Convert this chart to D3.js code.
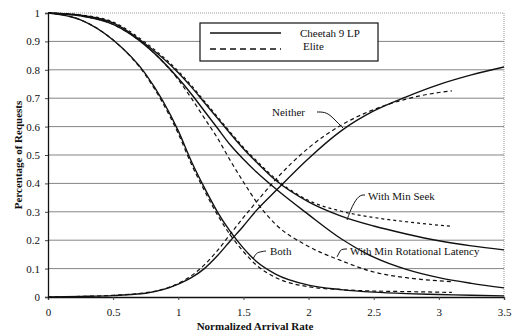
<!DOCTYPE html>
<html><head><meta charset="utf-8">
<script src="https://cdn.jsdelivr.net/npm/d3@7/dist/d3.min.js"></script>
<style>
html,body{margin:0;padding:0;background:#fff;}
svg text{font-family:"Liberation Serif","Times New Roman",serif;fill:#111;}
</style></head>
<body>
<svg id="chart" width="514" height="331"></svg>
<script>
// ---- data ----
const cheetahX = [0,0.25,0.5,0.75,1,1.1,1.2,1.3,1.4,1.5,1.6,1.75,2,2.25,2.5,2.75,3,3.25,3.5];
const eliteX   = [0,0.25,0.5,0.75,1,1.1,1.2,1.3,1.4,1.5,1.6,1.75,2,2.25,2.5,2.75,3,3.1];

const cheetahBoth    = [1,0.976,0.905,0.785,0.585,0.478,0.385,0.3,0.23,0.172,0.125,0.08,0.042,0.026,0.017,0.012,0.009,0.006,0.004];
const cheetahMinRot  = [1,0.99,0.96,0.885,0.77,0.715,0.655,0.595,0.535,0.485,0.44,0.38,0.29,0.205,0.14,0.097,0.068,0.048,0.032];
const cheetahMinSeek = [1,0.992,0.965,0.89,0.79,0.74,0.685,0.63,0.575,0.522,0.475,0.41,0.335,0.285,0.25,0.222,0.198,0.18,0.166];
const cheetahNeither = [0,0.002,0.005,0.013,0.045,0.068,0.1,0.145,0.198,0.25,0.305,0.375,0.488,0.585,0.655,0.705,0.748,0.782,0.81];

const eliteBoth    = [1,0.976,0.905,0.78,0.575,0.468,0.375,0.29,0.218,0.16,0.112,0.068,0.036,0.026,0.021,0.019,0.017,0.016];
const eliteMinRot  = [1,0.99,0.96,0.885,0.765,0.7,0.63,0.56,0.48,0.405,0.335,0.255,0.178,0.128,0.088,0.068,0.057,0.054];
const eliteMinSeek = [1,0.993,0.968,0.895,0.795,0.745,0.69,0.635,0.58,0.527,0.48,0.415,0.34,0.302,0.28,0.265,0.253,0.249];
const eliteNeither = [0,0.002,0.006,0.015,0.048,0.075,0.113,0.163,0.222,0.28,0.335,0.415,0.525,0.605,0.66,0.697,0.72,0.726];

const xTicks = [0,0.5,1,1.5,2,2.5,3,3.5];
const yTicks = [0,0.1,0.2,0.3,0.4,0.5,0.6,0.7,0.8,0.9,1];
const legendLabels = ["Cheetah 9 LP","Elite"];
const xTitle = "Normalized Arrival Rate";
const yTitle = "Percentage of Requests";

// ---- chart ----
const svg = d3.select("#chart");
const x = d3.scaleLinear().domain([0,3.5]).range([48,504]);
const y = d3.scaleLinear().domain([0,1]).range([297,13]);

// gridlines
svg.append("g").selectAll("line").data(yTicks.filter(d=>d>0&&d<1)).join("line")
  .attr("x1",x(0)).attr("x2",x(3.5)).attr("y1",d=>y(d)).attr("y2",d=>y(d))
  .attr("stroke","#858585").attr("stroke-width",1);
// top & right border dotted
svg.append("line").attr("x1",x(0)).attr("x2",x(3.5)).attr("y1",y(1)).attr("y2",y(1))
  .attr("stroke","#999").attr("stroke-dasharray","1,1");
svg.append("line").attr("x1",x(3.5)).attr("x2",x(3.5)).attr("y1",y(1)).attr("y2",y(0))
  .attr("stroke","#999").attr("stroke-dasharray","1,1");

// axes
const fmt = d => d3.format("~g")(d);
const gx = svg.append("g").attr("transform",`translate(0,${y(0)})`)
  .call(d3.axisBottom(x).tickValues(xTicks).tickFormat(fmt).tickSize(3).tickPadding(8));
gx.select(".domain").attr("stroke","#111").attr("stroke-width",1.3);
gx.selectAll(".tick line").attr("stroke","#444");
gx.selectAll("text").style("font-family",'"Liberation Serif",serif').style("font-size","11px").attr("fill","#111");

const gy = svg.append("g").attr("transform",`translate(${x(0)},0)`)
  .call(d3.axisLeft(y).tickValues(yTicks).tickFormat(fmt).tickSize(3).tickPadding(5));
gy.select(".domain").attr("stroke","#111").attr("stroke-width",1.3);
gy.selectAll(".tick line").attr("stroke","#444");
gy.selectAll("text").style("font-family",'"Liberation Serif",serif').style("font-size","11px").attr("fill","#111");

// titles
svg.append("text").attr("x",255).attr("y",330).attr("text-anchor","middle")
  .style("font-size","11px").style("font-weight","bold").text(xTitle);
svg.append("text").attr("transform","translate(22,155) rotate(-90)").attr("text-anchor","middle")
  .style("font-size","11px").style("font-weight","bold").text(yTitle);

// lines
const line = d3.line().x(d=>x(d[0])).y(d=>y(d[1])).curve(d3.curveMonotoneX);
const zip = (xs,ys) => xs.map((v,i)=>[v,ys[i]]);
const series = [
  {xs:eliteX, ys:eliteBoth, dash:"4,3"},
  {xs:eliteX, ys:eliteMinRot, dash:"4,3"},
  {xs:eliteX, ys:eliteMinSeek, dash:"3,3"},
  {xs:eliteX, ys:eliteNeither, dash:"4,3"},
  {xs:cheetahX, ys:cheetahBoth, dash:null},
  {xs:cheetahX, ys:cheetahMinRot, dash:null},
  {xs:cheetahX, ys:cheetahMinSeek, dash:null},
  {xs:cheetahX, ys:cheetahNeither, dash:null}
];
svg.append("g").selectAll("path").data(series).join("path")
  .attr("d",d=>line(zip(d.xs,d.ys)))
  .attr("fill","none").attr("stroke","#111")
  .attr("stroke-width",d=>d.dash?1.2:1.4)
  .attr("stroke-dasharray",d=>d.dash);

// legend
const lg = svg.append("g");
lg.append("rect").attr("x",200).attr("y",23).attr("width",178).attr("height",38)
  .attr("fill","#fff").attr("stroke","#111").attr("stroke-width",1.2);
lg.append("line").attr("x1",210).attr("x2",281).attr("y1",33).attr("y2",33)
  .attr("stroke","#111").attr("stroke-width",1.4);
lg.append("line").attr("x1",210).attr("x2",281).attr("y1",49).attr("y2",49)
  .attr("stroke","#111").attr("stroke-width",1.3).attr("stroke-dasharray","6,4");
lg.append("text").attr("x",300).attr("y",37).style("font-size","11px").text(legendLabels[0]);
lg.append("text").attr("x",303).attr("y",50).style("font-size","11px").text(legendLabels[1]);

// annotations
const ann = svg.append("g");
const addNote = (txt,tx,ty,pts) => {
  ann.append("text").attr("x",tx).attr("y",ty).style("font-size","11px").text(txt);
  ann.append("path").attr("d",d3.line().curve(d3.curveBasis)(pts))
    .attr("fill","none").attr("stroke","#111").attr("stroke-width",1);
};
addNote("Neither",272,116,[[317,112],[327,112],[335,120],[343,128]]);
addNote("With Min Seek",368,200,[[365,195],[359,195],[352,206],[347,220]]);
addNote("Both",270,255,[[266,251],[258,252],[255,255],[253,259]]);
addNote("With Min Rotational Latency",350,255,[[347,249],[341,249],[339,253],[337,257]]);
</script>
</body></html>
